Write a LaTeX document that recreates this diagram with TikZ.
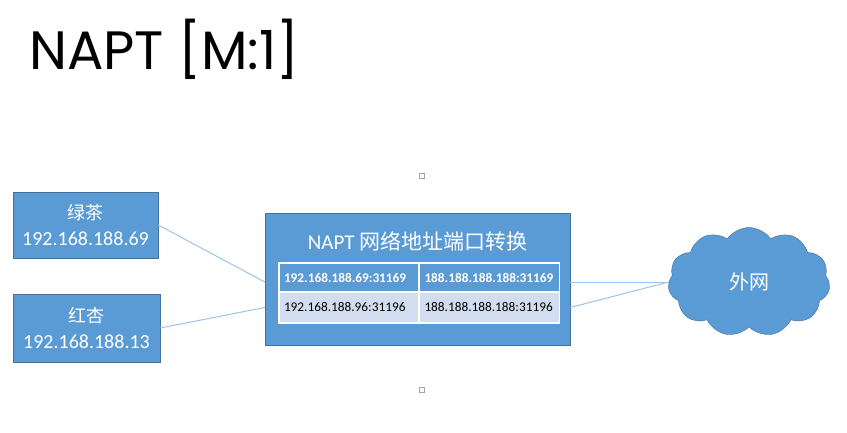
\documentclass[tikz,border=0pt]{standalone}
\usepackage{fontspec}
\setmainfont{Carlito}
\newfontfamily\cjk{Noto Sans CJK SC}
\newfontfamily\titlefont{Poppins}
\usetikzlibrary{shapes.symbols}

\definecolor{boxblue}{HTML}{5B9BD5}
\definecolor{boxedge}{HTML}{41719C}
\definecolor{rowblue}{HTML}{D2DEEF}
\definecolor{linkblue}{HTML}{9DC3E6}

\begin{document}
\begin{tikzpicture}[x=1pt,y=-1pt,
    hostbox/.style={draw=boxedge,fill=boxblue,text=white,align=center,
        inner sep=0pt,font=\fontsize{20}{26}\selectfont},
    headcell/.style={draw=white,line width=1.2pt,fill=boxblue,text=white,
        font=\fontsize{13.3}{16}\selectfont\bfseries,text width=130pt,
        align=left,inner xsep=5pt,inner ysep=0pt,minimum height=29pt},
    bodycell/.style={draw=white,line width=1.2pt,fill=rowblue,text=black,
        font=\fontsize{13.3}{16}\selectfont,text width=130pt,
        align=left,inner xsep=5pt,inner ysep=0pt,minimum height=31pt},
    link/.style={draw=linkblue,line width=1pt},
    handle/.style={draw=gray!70,fill=white,line width=0.5pt,
        minimum size=5pt,inner sep=0pt}]
    \useasboundingbox (0,0) rectangle (847,433);

    % title
    \node [anchor=base west,inner sep=0pt] (title) at (29,70)%
        {\titlefont\fontsize{54}{60}\selectfont NAPT [M:1]};

    % hosts
    \node [hostbox,minimum width=145pt,minimum height=66pt] (lvcha)
        at (85.5,225) {{\cjk\fontsize{18}{26}\selectfont 绿茶}\\192.168.188.69};
    \node [hostbox,minimum width=147pt,minimum height=68pt] (hongxing)
        at (86.5,328) {{\cjk\fontsize{18}{26}\selectfont 红杏}\\192.168.188.13};

    % NAPT box and its table
    \node [draw=boxedge,fill=boxblue,minimum width=305pt,minimum height=132pt,
        inner sep=0pt] (napt) at (417.5,279) {};
    \node [text=white,font=\fontsize{21}{24}\selectfont] (napttitle)
        at (417.5,241) {NAPT {\cjk 网络地址端口转换}};
    \node [headcell] (c11) at (349,277.5) {192.168.188.69:31169};
    \node [headcell] (c12) at (489.5,277.5) {188.188.188.188:31169};
    \node [bodycell] (c21) at (349,307.5) {192.168.188.96:31196};
    \node [bodycell] (c22) at (489.5,307.5) {188.188.188.188:31196};

    % internet
    \node [cloud,cloud puffs=11,cloud puff arc=110,aspect=1.5,
        draw=boxedge,fill=boxblue,text=white,minimum width=162pt,
        minimum height=109pt,inner sep=0pt] (waiwang) at (749,282)%
        {\cjk\fontsize{20}{24}\selectfont 外网};

    % selection handles
    \node [handle] (htop) at (422,176) {};
    \node [handle] (hbot) at (422,390) {};

    % links
    \draw [link] (lvcha.east) -- (napt.west |- waiwang.west);
    \draw [link] (hongxing.east) -- (napt.west |- c21.center);
    \draw [link] (napt.east |- waiwang.west) -- (waiwang.west);
    \draw [link] (napt.east |- c21.center) -- (waiwang.west);
\end{tikzpicture}
\end{document}
